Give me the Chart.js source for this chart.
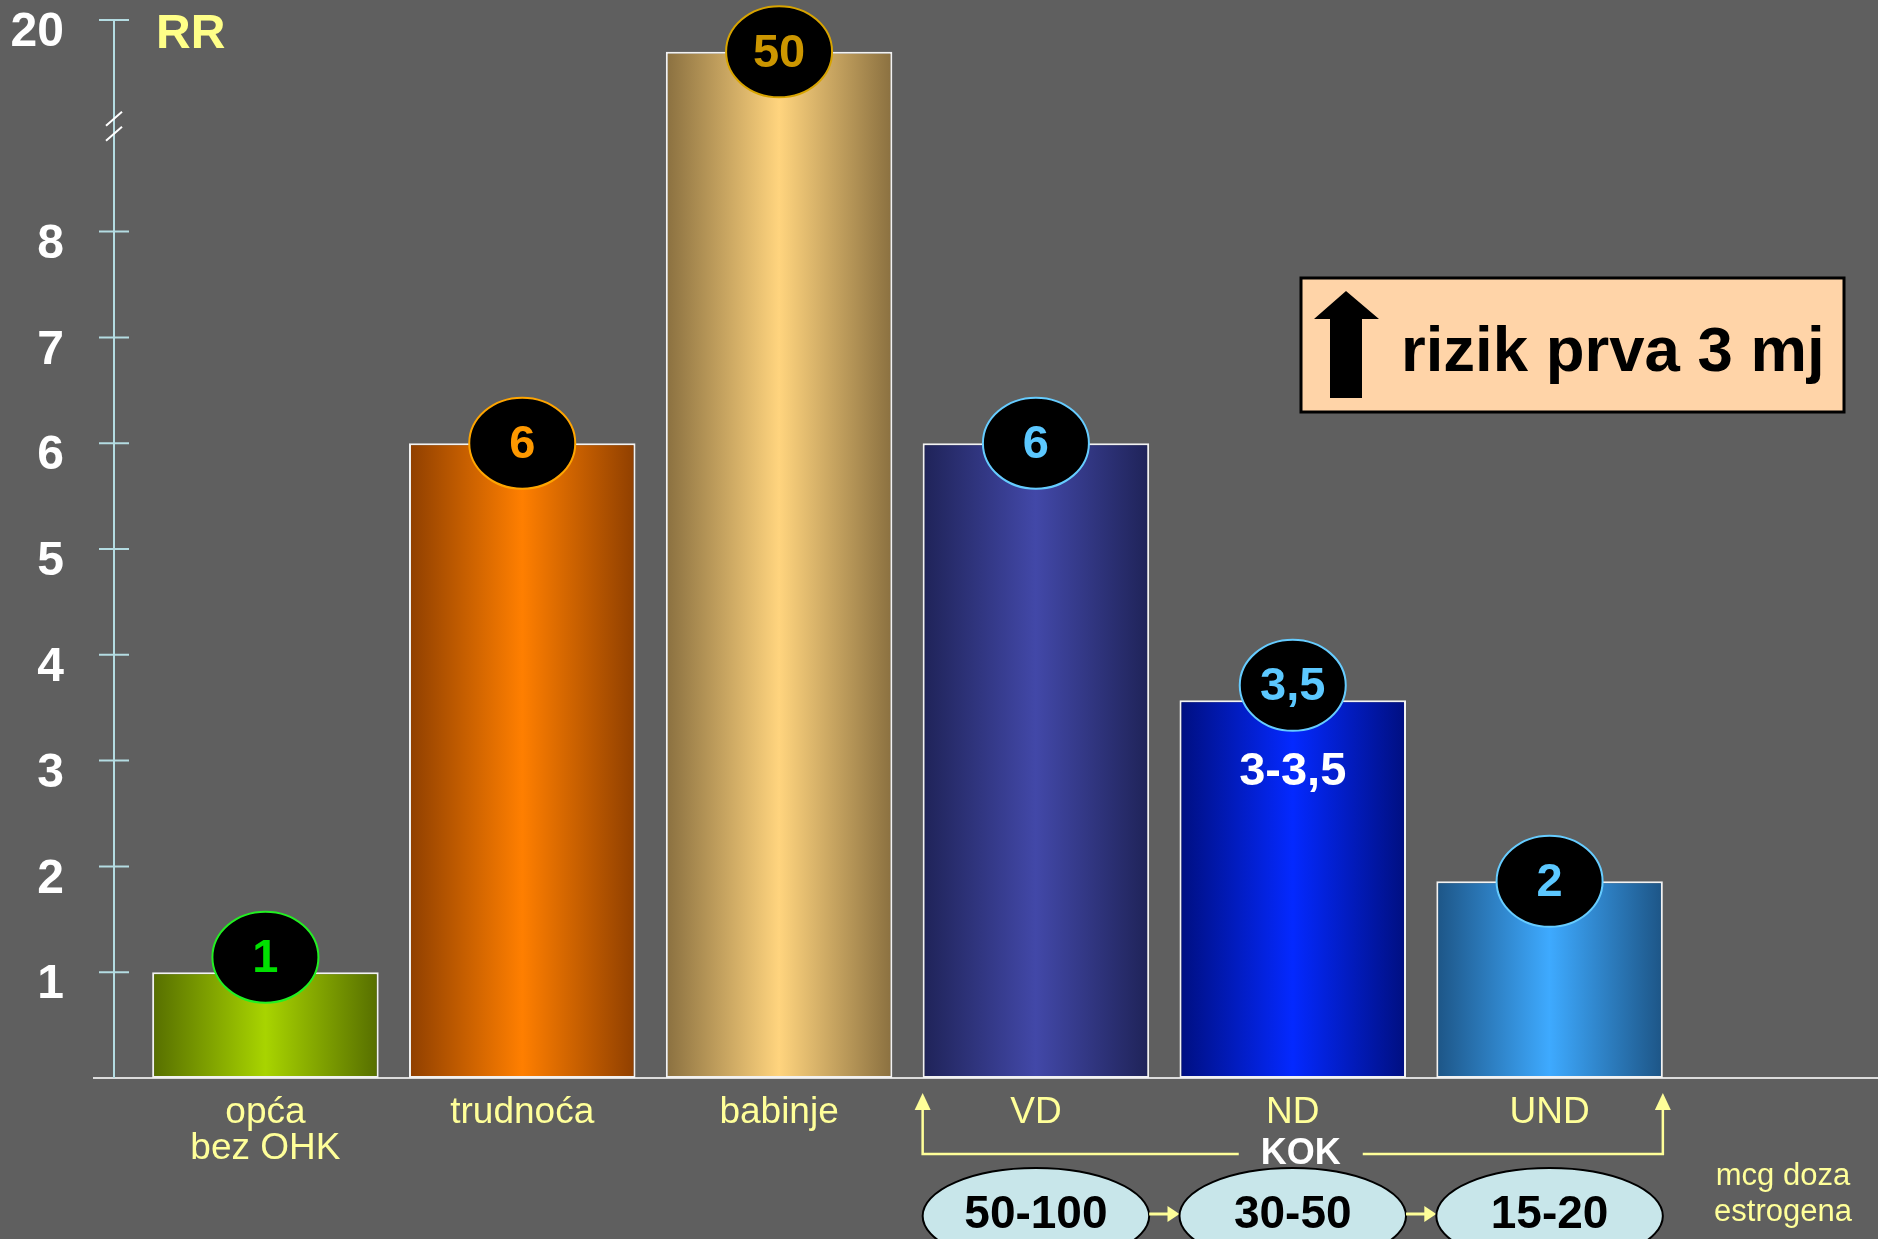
<!DOCTYPE html>
<html>
<head>
<meta charset="utf-8">
<script src="https://cdn.jsdelivr.net/npm/chart.js@4.4.1/dist/chart.umd.min.js"></script>
<style>
  html, body { margin: 0; padding: 0; background: #5f5f5f; }
  #chartContainer { width: 1878px; height: 1239px; position: relative; }
</style>
</head>
<body>
<div id="chartContainer"><canvas id="myChart"></canvas></div>
<script>
// categories and values
const categories = [["opća", "bez OHK"], "trudnoća", "babinje", "VD", "ND", "UND"];
// bar heights as drawn on the broken axis (babinje = 50, cut off above the break)
const barHeights = [1, 6, 9.7, 6, 3.57, 1.86];
const rrLabels = ["1", "6", "50", "6", "3,5", "2"];
const innerNotes = ["", "", "", "", "3-3,5", ""];
const yTickValues = [1, 2, 3, 4, 5, 6, 7, 8, 10];
const yTickLabels = ["1", "2", "3", "4", "5", "6", "7", "8", "20"];
const axisBreakAt = 9;
const kokCategories = [3, 4, 5];
const doseLabels = ["50-100", "30-50", "15-20"];

const FONT = '"Liberation Sans", Arial, sans-serif';
Chart.defaults.font.family = FONT;

const barColors = [
  ["#566e00", "#a8d400"],
  ["#8f3f00", "#ff7f00"],
  ["#8a7040", "#ffd47e"],
  ["#1f2358", "#4248a8"],
  ["#000f80", "#0429ff"],
  ["#1d5586", "#3eaaff"],
];
const badgeColors = [
  { text: "#00e000", border: "#22f022" },
  { text: "#ff9900", border: "#ffa500" },
  { text: "#cc9600", border: "#d8a400" },
  { text: "#5cc8ff", border: "#66ccff" },
  { text: "#5cc8ff", border: "#66ccff" },
  { text: "#5cc8ff", border: "#66ccff" },
];
const badgeLift = [15, 0, 0, 0, 15, 0];

function barGradient(context) {
  const chart = context.chart;
  const i = context.dataIndex;
  const xs = chart.scales.x;
  if (!chart.chartArea || !xs || i === undefined) return barColors[0][1];
  const cx = xs.getPixelForValue(i);
  const half = (xs.width / categories.length) * 0.882 / 2;
  const g = chart.ctx.createLinearGradient(cx - half, 0, cx + half, 0);
  const [edge, mid] = barColors[i];
  g.addColorStop(0, edge);
  g.addColorStop(0.5, mid);
  g.addColorStop(1, edge);
  return g;
}

const decorations = {
  id: "decorations",
  beforeDatasetsDraw(chart) {
    const { ctx } = chart;
    const ys = chart.scales.y;
    const base = ys.getPixelForValue(0);
    ctx.save();
    // baseline
    ctx.strokeStyle = "#dcdcdc";
    ctx.lineWidth = 2;
    ctx.beginPath();
    ctx.moveTo(93, base);
    ctx.lineTo(chart.width, base);
    ctx.stroke();
    // y axis line and tick marks
    ctx.strokeStyle = "#b4dce2";
    ctx.lineWidth = 2;
    ctx.beginPath();
    ctx.moveTo(114, ys.getPixelForValue(10));
    ctx.lineTo(114, base);
    yTickValues.forEach((v) => {
      const y = ys.getPixelForValue(v);
      ctx.moveTo(99, y);
      ctx.lineTo(129, y);
    });
    ctx.stroke();
    // axis break
    const by = ys.getPixelForValue(axisBreakAt);
    ctx.strokeStyle = "#ffffff";
    ctx.beginPath();
    ctx.moveTo(106, by);
    ctx.lineTo(122, by - 14);
    ctx.moveTo(106, by + 15);
    ctx.lineTo(122, by + 1);
    ctx.stroke();
    // RR title
    ctx.fillStyle = "#ffff88";
    ctx.font = "bold 48px " + FONT;
    ctx.textAlign = "left";
    ctx.textBaseline = "alphabetic";
    ctx.fillText("RR", 156, 48);
    ctx.restore();
  },
  afterDatasetsDraw(chart) {
    const { ctx } = chart;
    const meta = chart.getDatasetMeta(0);
    ctx.save();
    ctx.textAlign = "center";
    ctx.textBaseline = "middle";
    meta.data.forEach((bar, i) => {
      const cy = bar.y - badgeLift[i];
      ctx.beginPath();
      ctx.ellipse(bar.x, cy, 53, 45.5, 0, 0, Math.PI * 2);
      ctx.fillStyle = "#000";
      ctx.fill();
      ctx.lineWidth = 2;
      ctx.strokeStyle = badgeColors[i].border;
      ctx.stroke();
      ctx.fillStyle = badgeColors[i].text;
      ctx.font = "bold 47px " + FONT;
      ctx.fillText(rrLabels[i], bar.x, cy + 2);
      if (innerNotes[i]) {
        ctx.fillStyle = "#fff";
        ctx.font = "bold 47px " + FONT;
        ctx.fillText(innerNotes[i], bar.x, bar.y + 72);
      }
    });

    // KOK bracket
    const first = meta.data[kokCategories[0]];
    const last = meta.data[kokCategories[kokCategories.length - 1]];
    const left = first.x - first.width / 2;
    const right = last.x + last.width / 2;
    const lineY = 1154;
    const mid = (left + right) / 2 + 8;
    ctx.strokeStyle = "#ffff99";
    ctx.fillStyle = "#ffff99";
    ctx.lineWidth = 2.5;
    ctx.beginPath();
    ctx.moveTo(left, 1108);
    ctx.lineTo(left, lineY);
    ctx.lineTo(mid - 62, lineY);
    ctx.moveTo(mid + 62, lineY);
    ctx.lineTo(right, lineY);
    ctx.lineTo(right, 1108);
    ctx.stroke();
    [left, right].forEach((x) => {
      ctx.beginPath();
      ctx.moveTo(x, 1093);
      ctx.lineTo(x - 8, 1110);
      ctx.lineTo(x + 8, 1110);
      ctx.closePath();
      ctx.fill();
    });
    ctx.fillStyle = "#fff";
    ctx.font = "bold 36px " + FONT;
    ctx.fillText("KOK", mid, 1154);

    // dose ellipses and arrows
    const doseY = 1216;
    kokCategories.forEach((c, k) => {
      const bar = meta.data[c];
      ctx.beginPath();
      ctx.ellipse(bar.x, doseY, bar.width / 2, 48, 0, 0, Math.PI * 2);
      ctx.fillStyle = "#c8e6ea";
      ctx.fill();
      ctx.lineWidth = 2;
      ctx.strokeStyle = "#000";
      ctx.stroke();
      ctx.fillStyle = "#000";
      ctx.font = "bold 46px " + FONT;
      ctx.fillText(doseLabels[k], bar.x, 1215);
      if (k < kokCategories.length - 1) {
        const next = meta.data[kokCategories[k + 1]];
        const x0 = bar.x + bar.width / 2;
        const x1 = next.x - next.width / 2;
        ctx.strokeStyle = "#ffff99";
        ctx.fillStyle = "#ffff99";
        ctx.lineWidth = 3;
        ctx.beginPath();
        ctx.moveTo(x0, 1214);
        ctx.lineTo(x1 - 10, 1214);
        ctx.stroke();
        ctx.beginPath();
        ctx.moveTo(x1, 1214);
        ctx.lineTo(x1 - 12, 1206);
        ctx.lineTo(x1 - 12, 1222);
        ctx.closePath();
        ctx.fill();
      }
    });
    ctx.fillStyle = "#ffff99";
    ctx.font = "31px " + FONT;
    ctx.fillText("mcg doza", 1783, 1176);
    ctx.fillText("estrogena", 1783, 1212);

    // note box
    ctx.fillStyle = "#ffd4a8";
    ctx.fillRect(1301, 278, 543, 134);
    ctx.lineWidth = 3;
    ctx.strokeStyle = "#000";
    ctx.strokeRect(1301, 278, 543, 134);
    ctx.fillStyle = "#000";
    ctx.beginPath();
    ctx.moveTo(1346, 291);
    ctx.lineTo(1379, 319);
    ctx.lineTo(1362, 319);
    ctx.lineTo(1362, 398);
    ctx.lineTo(1330, 398);
    ctx.lineTo(1330, 319);
    ctx.lineTo(1314, 319);
    ctx.closePath();
    ctx.fill();
    ctx.textAlign = "left";
    ctx.textBaseline = "alphabetic";
    ctx.font = "bold 63.5px " + FONT;
    ctx.fillText("rizik prva 3 mj", 1401, 371);
    ctx.restore();
  },
};

const ctx = document.getElementById("myChart").getContext("2d");

new Chart(ctx, {
  type: "bar",
  data: {
    labels: categories,
    datasets: [
      {
        data: barHeights,
        backgroundColor: barGradient,
        borderColor: "#f2f2f2",
        borderWidth: 2,
        borderSkipped: false,
        categoryPercentage: 1,
        barPercentage: 0.882,
      },
    ],
  },
  options: {
    responsive: true,
    maintainAspectRatio: false,
    animation: false,
    layout: { padding: { top: 20, right: 200, left: 0, bottom: 0 } },
    plugins: { legend: { display: false }, tooltip: { enabled: false } },
    scales: {
      x: {
        grid: { display: false, drawTicks: false },
        border: { display: false },
        ticks: {
          color: "#ffff99",
          padding: 17,
          maxRotation: 0,
          autoSkip: false,
          font: { size: 37, lineHeight: 0.97 },
        },
        afterFit(scale) {
          scale.height = 161;
          scale.paddingLeft = 0;
          scale.paddingRight = 0;
        },
      },
      y: {
        min: 0,
        max: 10,
        grid: { display: false, drawTicks: false },
        border: { display: false },
        afterBuildTicks(scale) {
          scale.ticks = yTickValues.map((v) => ({ value: v }));
        },
        ticks: {
          color: "#ffffff",
          padding: 73,
          labelOffset: 13,
          font: { size: 48, weight: "bold" },
          callback: (value) => yTickLabels[yTickValues.indexOf(value)],
        },
        afterFit(scale) {
          scale.width = 137;
          scale.paddingTop = 0;
          scale.paddingBottom = 0;
        },
      },
    },
  },
  plugins: [decorations],
});
</script>
</body>
</html>
